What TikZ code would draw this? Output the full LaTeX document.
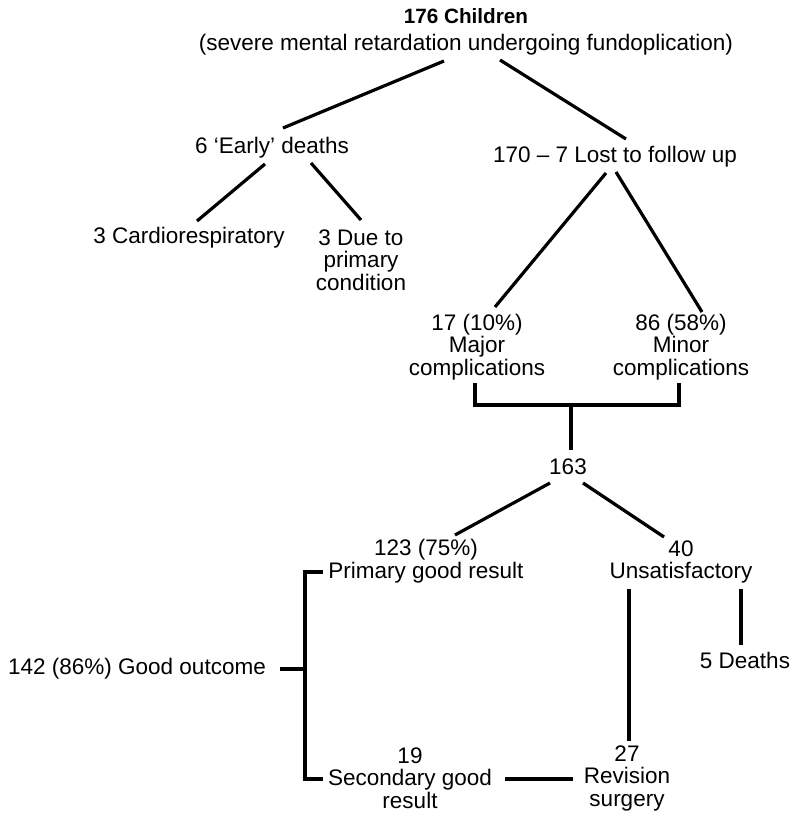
\documentclass[tikz,border=0pt]{standalone}
\usepackage{fontspec}
\setmainfont{Liberation Sans}

\begin{document}
\begin{tikzpicture}[x=1pt, y=-1pt,
  lbl/.style={inner sep=0pt, align=center, font=\fontsize{22.5}{22.5}\selectfont},
  ttl/.style={lbl, font=\fontsize{20.7}{22}\selectfont\bfseries},
  link/.style={line width=3.2pt}]
\useasboundingbox (0,0) rectangle (790,814);
% labels
\node[ttl] (title) at (466,16) {176 Children};
\node[lbl] (sub) at (466,45) {(severe mental retardation undergoing fundoplication)};
\node[lbl] (early) at (272,148) {6 ‘Early’ deaths};
\node[lbl] (lost) at (615,157) {170 – 7 Lost to follow up};
\node[lbl] (cardio) at (189,238) {3 Cardiorespiratory};
\node[lbl] (due) at (361,260) {3 Due to\\primary\\condition};
\node[lbl] (major) at (477,347) {17 (10\%)\\Major\\complications};
\node[lbl] (minor) at (681,347) {86 (58\%)\\Minor\\complications};
\node[lbl] (n163) at (568,467) {163};
\node[lbl] (primary) at (426,561) {123 (75\%)\\Primary good result};
\node[lbl] (unsat) at (681,562) {40\\Unsatisfactory};
\node[lbl] (good) at (137,669) {142 (86\%) Good outcome};
\node[lbl] (deaths) at (745,660) {5 Deaths};
\node[lbl] (second) at (410,778) {19\\Secondary good\\result};
\node[lbl] (revision) at (627,778) {27\\Revision\\surgery};
\coordinate (junc) at (571,405);
\coordinate (fork) at (305,669);
% connectors
\draw[link] ([shift={(-22,16)}]sub.center) -- ([shift={(11,-20)}]early.center);
\draw[link] ([shift={(34,15)}]sub.center) -- ([shift={(11,-18)}]lost.center);
\draw[link] ([shift={(-7,16)}]early.center) -- ([shift={(8,-17)}]cardio.center);
\draw[link] ([shift={(39,15)}]early.center) -- ([shift={(0,-40)}]due.center);
\draw[link] ([shift={(-9,16)}]lost.center) -- ([shift={(18,-40)}]major.center);
\draw[link] ([shift={(1,15)}]lost.center) -- ([shift={(21,-35)}]minor.center);
\draw[link] ([shift={(-2,36)}]major.center) |- (junc) -| ([shift={(-2,36)}]minor.center);
\draw[link] (junc) -- ([shift={(3,-17)}]n163.center);
\draw[link] ([shift={(-18,16)}]n163.center) -- ([shift={(29,-26)}]primary.center);
\draw[link] ([shift={(15,16)}]n163.center) -- ([shift={(-17,-25)}]unsat.center);
\draw[link] ([shift={(-103,11)}]primary.center) -| (fork) |- ([shift={(-87,1)}]second.center);
\draw[link] ([xshift=14pt]good.east) -- (fork);
\draw[link] ([shift={(-52,27)}]unsat.center) -- ([shift={(2,-37)}]revision.center);
\draw[link] ([shift={(60,27)}]unsat.center) -- ([shift={(-4,-15)}]deaths.center);
\draw[link] ([shift={(95,1)}]second.center) -- ([shift={(-54,1)}]revision.center);
\end{tikzpicture}
\end{document}
